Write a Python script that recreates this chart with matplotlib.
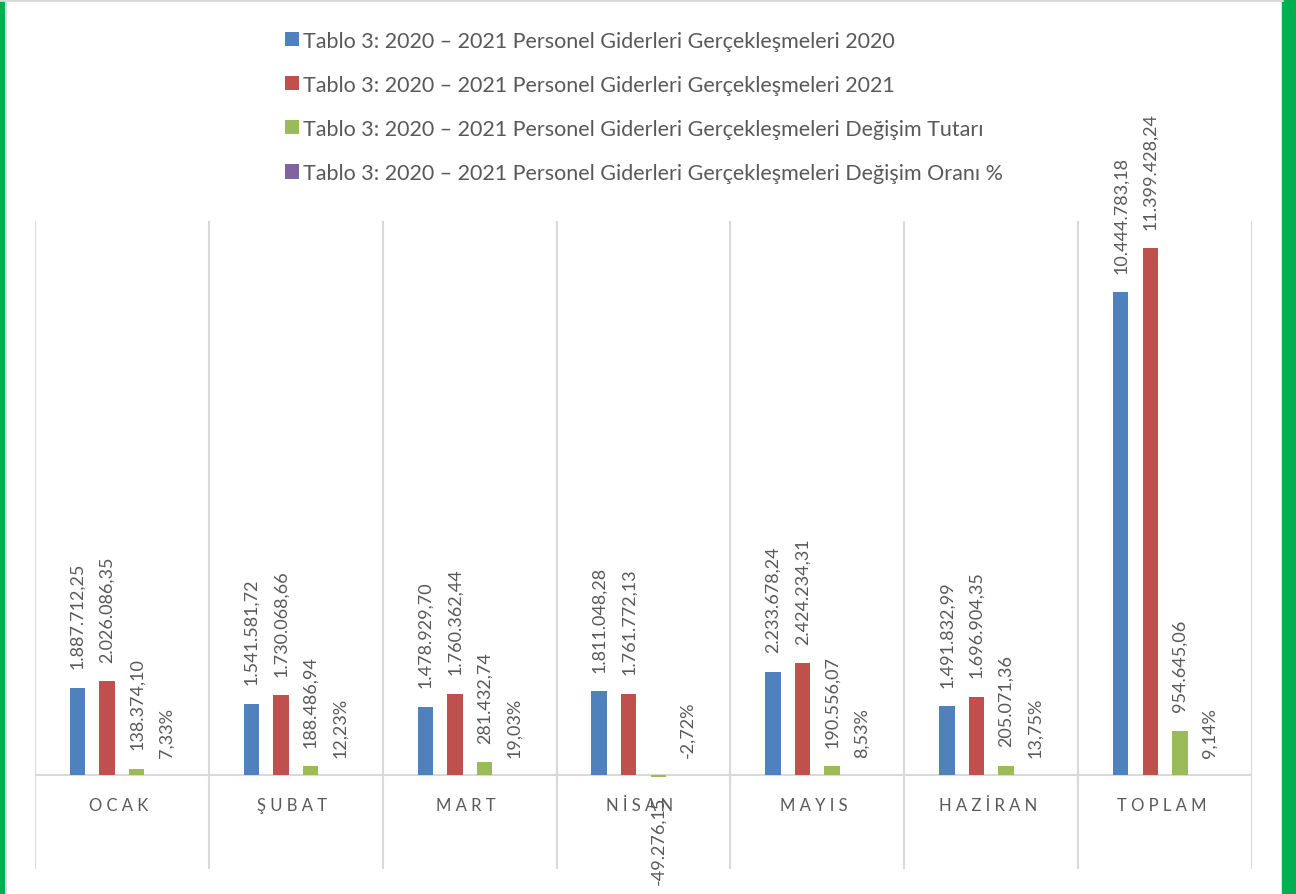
import matplotlib
matplotlib.use('Agg')
import matplotlib.pyplot as plt
from matplotlib.patches import Patch, Rectangle
from matplotlib.lines import Line2D
import numpy as np

plt.rcParams['font.family'] = ['Lato', 'DejaVu Sans']

# Veriler
aylar = ['OCAK', 'ŞUBAT', 'MART', 'NİSAN', 'MAYIS', 'HAZİRAN', 'TOPLAM']
gider_2020 = [1887712.25, 1541581.72, 1478929.70, 1811048.28, 2233678.24, 1491832.99, 10444783.18]
gider_2021 = [2026086.35, 1730068.66, 1760362.44, 1761772.13, 2424234.31, 1696904.35, 11399428.24]
degisim_tutari = [138374.10, 188486.94, 281432.74, -49276.15, 190556.07, 205071.36, 954645.06]
degisim_orani = [7.33, 12.23, 19.03, -2.72, 8.53, 13.75, 9.14]

seri_adlari = [
    'Tablo 3: 2020 – 2021 Personel Giderleri Gerçekleşmeleri 2020',
    'Tablo 3: 2020 – 2021 Personel Giderleri Gerçekleşmeleri 2021',
    'Tablo 3: 2020 – 2021 Personel Giderleri Gerçekleşmeleri Değişim Tutarı',
    'Tablo 3: 2020 – 2021 Personel Giderleri Gerçekleşmeleri Değişim Oranı %',
]
renkler = ['#4f81bd', '#c0504d', '#9bbb59', '#8064a2']
gri = '#595959'


def tr_sayi(v):
    s = f'{abs(v):,.2f}'.replace(',', 'X').replace('.', ',').replace('X', '.')
    return ('-' if v < 0 else '') + s


def tr_yuzde(v):
    return f'{v:.2f}'.replace('.', ',') + '%'


fig = plt.figure(figsize=(12.96, 8.95), dpi=100)
ax = fig.add_axes([35 / 1296, 25 / 895, 1217 / 1296, 648 / 895])

x = np.arange(len(aylar))
ofsetler = [-0.255, -0.085, 0.085, 0.255]
genislik = 0.089
seriler = [gider_2020, gider_2021, degisim_tutari, degisim_orani]

for i, (seri, renk) in enumerate(zip(seriler, renkler)):
    xs = x + ofsetler[i]
    ax.bar(xs, seri, width=genislik, color=renk, zorder=3)
    for xi, v in zip(xs, seri):
        if i == 3:
            metin, y, va, dy = tr_yuzde(v), 0, 'bottom', 13
        else:
            metin = tr_sayi(v)
            if v >= 0:
                y, va, dy = v, 'bottom', 14
            else:
                y, va, dy = v, 'top', -13
        ax.annotate(metin, (xi, y), xytext=(0, dy), textcoords='offset points',
                    rotation=90, ha='center', va=va, fontsize=13, color=gri, zorder=4)

ax.set_xlim(-0.5, len(aylar) - 0.5)
ax.set_ylim(-2.035e6, 11.99e6)

# Kategori ayrac cizgileri ve sifir cizgisi
for b in np.arange(len(aylar) + 1) - 0.5:
    ax.axvline(b, color='#d9d9d9', lw=1.5, zorder=1)
ax.axhline(0, color='#d9d9d9', lw=1.5, zorder=2)

for xi, ad in zip(x, aylar):
    ax.text(xi - 0.02, -0.65e6, ' '.join(ad), ha='center', va='center', fontsize=12, color=gri)

ax.set_xticks([])
ax.set_yticks([])
for s in ax.spines.values():
    s.set_visible(False)

handles = [Patch(facecolor=r, edgecolor='none') for r in renkler]
fig.legend(handles, seri_adlari, loc='upper left', bbox_to_anchor=(276 / 1296, 1 - 23 / 895),
           frameon=False, fontsize=15.5, labelcolor=gri, handlelength=0.65, handleheight=0.65,
           handletextpad=0.22, labelspacing=1.12, borderaxespad=0)

# Cerceve: yesil kenarlar
fig.add_artist(Rectangle((0, 0), 5 / 1296, 1, transform=fig.transFigure, color='#00b050'))
fig.add_artist(Rectangle((1282 / 1296, 0), 14 / 1296, 1, transform=fig.transFigure, color='#00b050'))
fig.add_artist(Line2D([6 / 1296, 6 / 1296], [0, 1], transform=fig.transFigure, color='#d9d9d9', lw=1.5))
fig.add_artist(Line2D([0, 1282 / 1296], [0.999, 0.999], transform=fig.transFigure, color='#d9d9d9', lw=2))

fig.savefig('out.png', dpi=100)
